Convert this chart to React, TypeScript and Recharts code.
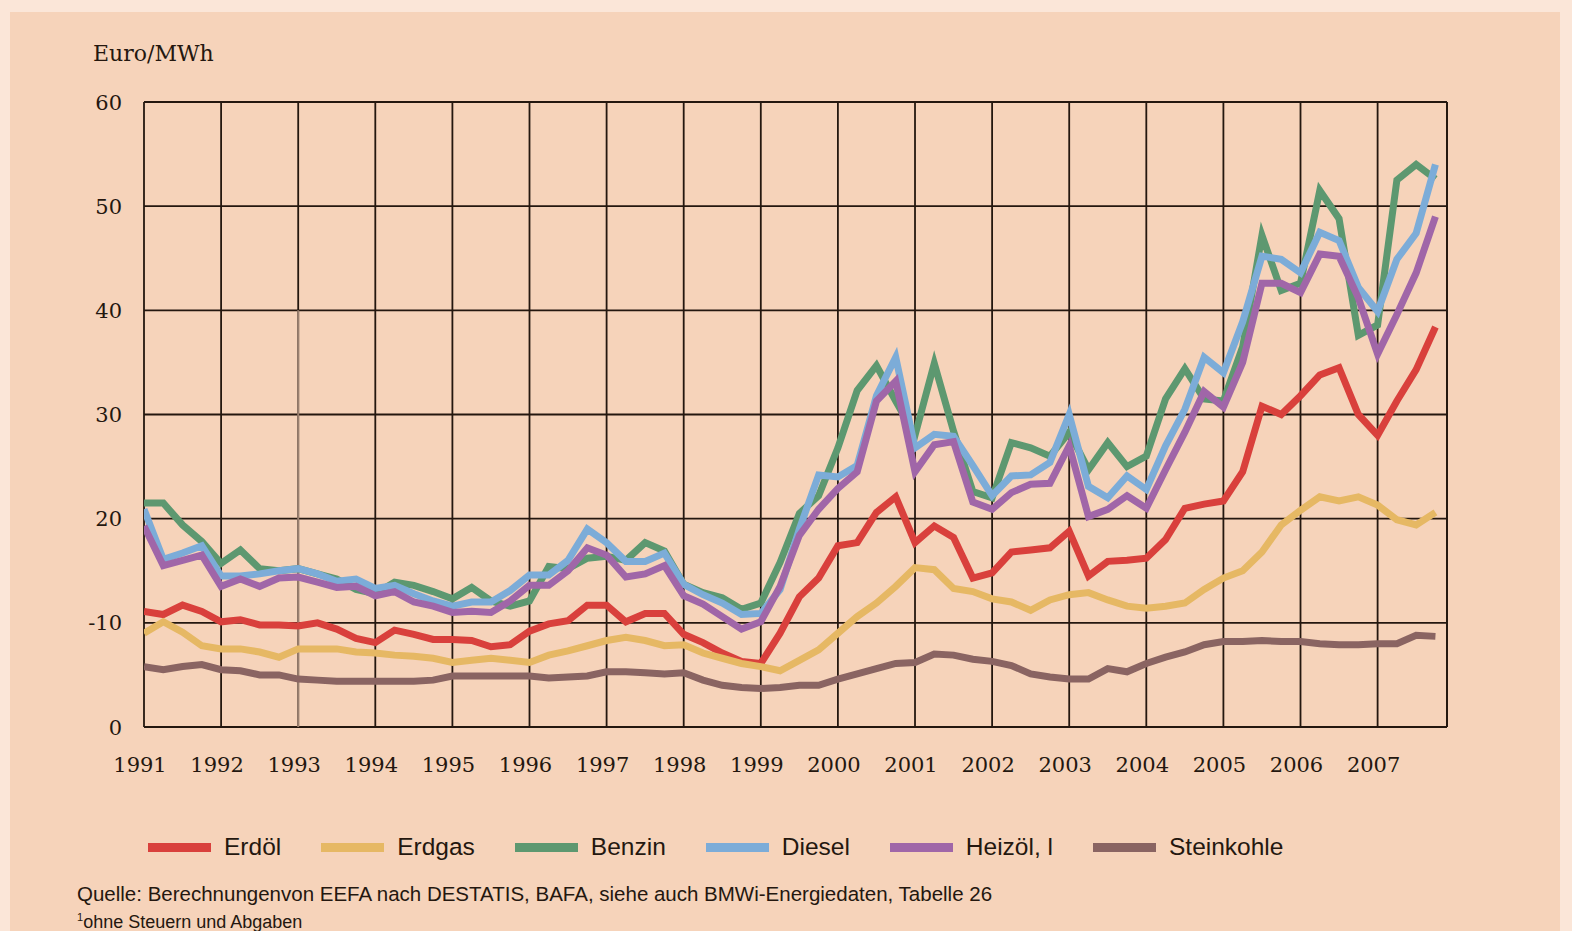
import React from 'react';
import { LineChart, Line, XAxis, YAxis, CartesianGrid, ReferenceLine } from 'recharts';

// quarterly values, Euro/MWh, 1991 Q1 .. 2007 Q4
const years = [1991, 1992, 1993, 1994, 1995, 1996, 1997, 1998, 1999, 2000, 2001, 2002, 2003, 2004, 2005, 2006, 2007];
const quarterOffsets = [0, 0.25, 0.5, 0.75];

const erdoel = [
  11.1, 10.8, 11.7, 11.1, 10.1, 10.3, 9.8, 9.8, 9.7, 10.0, 9.4, 8.5, 8.1, 9.3, 8.9, 8.4,
  8.4, 8.3, 7.7, 7.9, 9.2, 9.9, 10.2, 11.7, 11.7, 10.1, 10.9, 10.9, 8.9, 8.1, 7.1, 6.3,
  6.1, 9.0, 12.5, 14.3, 17.4, 17.7, 20.6, 22.1, 17.7, 19.3, 18.2, 14.3, 14.8, 16.8, 17.0, 17.2,
  18.8, 14.5, 15.9, 16.0, 16.2, 18.0, 21.0, 21.4, 21.7, 24.5, 30.8, 30.0, 31.8, 33.8, 34.5, 30.0,
  28.0, 31.3, 34.3, 38.4,
];
const erdgas = [
  9.0, 10.1, 9.1, 7.8, 7.5, 7.5, 7.2, 6.7, 7.5, 7.5, 7.5, 7.2, 7.1, 6.9, 6.8, 6.6,
  6.2, 6.4, 6.6, 6.4, 6.2, 6.9, 7.3, 7.8, 8.3, 8.6, 8.3, 7.8, 7.9, 7.1, 6.6, 6.1,
  5.8, 5.4, 6.4, 7.4, 9.0, 10.6, 11.9, 13.5, 15.3, 15.1, 13.3, 13.0, 12.3, 12.0, 11.2, 12.2,
  12.7, 12.9, 12.2, 11.6, 11.4, 11.6, 11.9, 13.2, 14.3, 15.0, 16.8, 19.4, 20.8, 22.1, 21.7, 22.1,
  21.3, 19.9, 19.4, 20.6,
];
const benzin = [
  21.5, 21.5, 19.4, 17.8, 15.7, 17.0, 15.2, 15.0, 15.2, 14.7, 14.2, 13.2, 12.8, 13.9, 13.6, 13.0,
  12.3, 13.4, 12.1, 11.6, 12.1, 15.4, 15.2, 16.2, 16.4, 16.0, 17.7, 16.9, 13.7, 12.9, 12.4, 11.3,
  11.9, 15.8, 20.5, 22.2, 26.8, 32.3, 34.7, 31.3, 28.0, 34.9, 28.4, 22.6, 22.0, 27.3, 26.8, 26.0,
  28.3, 24.7, 27.3, 25.0, 26.0, 31.5, 34.4, 31.5, 31.3, 36.5, 47.2, 41.9, 42.6, 51.5, 48.8, 37.6,
  38.6, 52.5, 54.0, 52.6,
];
const diesel = [
  20.9, 16.1, 16.7, 17.4, 14.5, 14.5, 14.7, 15.0, 15.2, 14.7, 14.0, 14.2, 13.3, 13.6, 12.8, 12.1,
  11.6, 12.0, 12.0, 13.1, 14.6, 14.6, 16.0, 19.0, 17.7, 15.9, 15.9, 16.7, 13.7, 12.7, 11.9, 10.8,
  10.9, 13.2, 19.0, 24.2, 24.0, 25.1, 31.8, 35.5, 26.8, 28.1, 27.9, 25.1, 22.2, 24.1, 24.2, 25.4,
  30.0, 23.1, 22.0, 24.1, 22.8, 27.0, 30.5, 35.5, 34.0, 38.9, 45.2, 44.9, 43.6, 47.5, 46.7, 42.2,
  39.9, 44.9, 47.4, 54.0,
];
const heizoel = [
  19.3, 15.5, 16.0, 16.5, 13.5, 14.2, 13.5, 14.3, 14.4, 13.9, 13.4, 13.5, 12.6, 13.0, 12.0, 11.6,
  11.0, 11.1, 11.0, 12.1, 13.6, 13.6, 15.0, 17.2, 16.5, 14.4, 14.7, 15.5, 12.6, 11.8, 10.6, 9.4,
  10.1, 13.5, 18.4, 20.9, 22.9, 24.5, 31.3, 33.2, 24.5, 27.1, 27.4, 21.6, 20.9, 22.5, 23.3, 23.4,
  27.0, 20.2, 20.9, 22.2, 21.0, 24.7, 28.3, 32.2, 30.7, 35.0, 42.6, 42.6, 41.7, 45.4, 45.2, 41.2,
  35.8, 39.6, 43.6, 49.0,
];
const steinkohle = [
  5.8, 5.5, 5.8, 6.0, 5.5, 5.4, 5.0, 5.0, 4.6, 4.5, 4.4, 4.4, 4.4, 4.4, 4.4, 4.5,
  4.9, 4.9, 4.9, 4.9, 4.9, 4.7, 4.8, 4.9, 5.3, 5.3, 5.2, 5.1, 5.2, 4.5, 4.0, 3.8,
  3.7, 3.8, 4.0, 4.0, 4.6, 5.1, 5.6, 6.1, 6.2, 7.0, 6.9, 6.5, 6.3, 5.9, 5.1, 4.8,
  4.6, 4.6, 5.6, 5.3, 6.1, 6.7, 7.2, 7.9, 8.2, 8.2, 8.3, 8.2, 8.2, 8.0, 7.9, 7.9,
  8.0, 8.0, 8.8, 8.7,
];

const yTicks = [0, 10, 20, 30, 40, 50, 60];
const yTickLabels = ['0', '-10', '20', '30', '40', '50', '60'];
const xEnd = 2007.9;

const series = [
  { key: 'erdoel', name: 'Erdöl', color: '#d9403c', values: erdoel },
  { key: 'erdgas', name: 'Erdgas', color: '#e6b864', values: erdgas },
  { key: 'benzin', name: 'Benzin', color: '#5d9870', values: benzin },
  { key: 'diesel', name: 'Diesel', color: '#7cacd8', values: diesel },
  { key: 'heizoel', name: 'Heizöl, l', color: '#a066a8', values: heizoel },
  { key: 'steinkohle', name: 'Steinkohle', color: '#8a6462', values: steinkohle },
];

const data = years.flatMap((yr, yi) =>
  quarterOffsets.map((q, qi) => {
    const row: Record<string, number> = { t: yr + q };
    series.forEach((s) => {
      row[s.key] = s.values[yi * 4 + qi];
    });
    return row;
  })
);

const ink = '#24170f';
const serif = '"DejaVu Serif", serif';
const sans = '"Liberation Sans", Arial, sans-serif';

const XTick = ({ x, y, payload }: any) => (
  <text x={x - 4} y={y + 45} textAnchor="middle" fontFamily={serif} fontSize={21} fill={ink}>
    {payload.value}
  </text>
);

const YTick = ({ x, y, payload }: any) => (
  <text x={x - 22} y={y} dy="0.36em" textAnchor="end" fontFamily={serif} fontSize={21} fill={ink}>
    {yTickLabels[yTicks.indexOf(payload.value)]}
  </text>
);

export default function App() {
  return (
    <div style={{ position: 'relative', width: 1572, height: 931, overflow: 'hidden', background: '#fbe6d8' }}>
      <style>{'body{margin:0}'}</style>
      <div style={{ position: 'absolute', left: 10, top: 12, width: 1550, height: 919, background: '#f6d3ba' }} />

      <div style={{ position: 'absolute', left: 93, top: 43, fontFamily: serif, fontSize: 22, color: ink, lineHeight: 1 }}>
        Euro/MWh
      </div>

      <div style={{ position: 'absolute', left: 0, top: 0 }}>
        <LineChart width={1572} height={800} data={data} margin={{ top: 102, right: 125, bottom: 33, left: 0 }}>
          <CartesianGrid stroke={ink} strokeWidth={1.8} />
          <XAxis
            dataKey="t"
            type="number"
            domain={[1991, xEnd]}
            ticks={years}
            allowDataOverflow
            axisLine={false}
            tickLine={false}
            tickSize={0}
            tickMargin={0}
            height={40}
            tick={<XTick />}
            interval={0}
          />
          <YAxis
            type="number"
            domain={[0, 60]}
            ticks={yTicks}
            axisLine={false}
            tickLine={false}
            tickSize={0}
            tickMargin={0}
            width={144}
            tick={<YTick />}
            interval={0}
          />
          <ReferenceLine x={xEnd} stroke={ink} strokeWidth={1.8} />
          <ReferenceLine
            segment={[{ x: 1993, y: 40 }, { x: 1993, y: 0 }]}
            stroke="#9a8070"
            strokeWidth={2}
          />
          {series.map((s) => (
            <Line
              key={s.key}
              type="linear"
              dataKey={s.key}
              name={s.name}
              stroke={s.color}
              strokeWidth={7}
              dot={false}
              activeDot={false}
              isAnimationActive={false}
            />
          ))}
        </LineChart>
      </div>

      {/* legend */}
      <div style={{ position: 'absolute', left: 148, top: 833, display: 'flex', alignItems: 'center', gap: 40, fontFamily: sans, fontSize: 24.5, color: ink }}>
        {series.map((s) => (
          <div key={s.key} style={{ display: 'flex', alignItems: 'center' }}>
            <div style={{ width: 63, height: 9, background: s.color, marginRight: 13 }} />
            <span>{s.name}</span>
          </div>
        ))}
      </div>

      <div style={{ position: 'absolute', left: 77, top: 882, fontFamily: sans, fontSize: 20.5, color: ink, whiteSpace: 'nowrap' }}>
        Quelle: Berechnungenvon EEFA nach DESTATIS, BAFA, siehe auch BMWi-Energiedaten, Tabelle 26
      </div>
      <div style={{ position: 'absolute', left: 77, top: 907, fontFamily: sans, fontSize: 18, color: ink, whiteSpace: 'nowrap', lineHeight: '20px' }}>
        <sup style={{ fontSize: 11 }}>1</sup>ohne Steuern und Abgaben
      </div>
    </div>
  );
}
